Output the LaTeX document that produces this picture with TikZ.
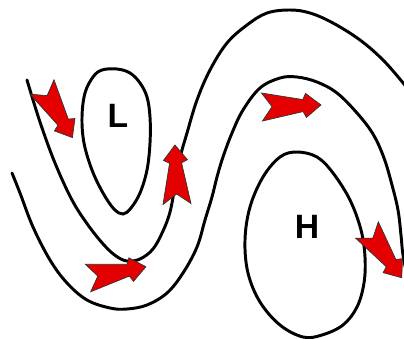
\documentclass[tikz,border=0pt]{standalone}
\usepackage{fontspec}
\setmainfont{Liberation Sans}
\usepackage{tikz}
\definecolor{WindRed}{RGB}{228,0,0}
\definecolor{Ink}{RGB}{0,0,0}
\tikzset{
  wind/.pic={
    \filldraw[windarrow] (0,14) -- (41,6) -- (44,12) -- (59,0) -- (44,-12) -- (41,-6) -- (0,-14) -- (10,0) -- cycle;
  }
}
\begin{document}
\begin{tikzpicture}[
  x=0.025cm,y=-0.025cm,
  isobar/.style={draw=Ink,line width=2.1pt,line cap=round},
  windarrow/.style={fill=WindRed,draw=Ink!80,line width=0.5pt,line join=miter},
  pressure/.style={font=\fontsize{24}{24}\selectfont\bfseries,text=Ink,inner sep=0pt}
]
\useasboundingbox (0,0) rectangle (404,338);
\clip (0,0) rectangle (404,338);

% isobars
\draw[isobar] plot[smooth,tension=0.6] coordinates {(27,80) (40,122) (55,163) (72,200) (88,225) (104,245) (116,256) (127,261) (140,259) (153,249) (163,231) (170,212) (175,186) (180,158) (187,133) (197,100) (210,70) (227,43) (247,25) (267,13) (290,10) (310,13) (333,23) (360,40) (383,60) (404,84) (412,95)};
\draw[isobar] plot[smooth,tension=0.6] coordinates {(12,173) (20,193) (33,227) (50,260) (67,283) (87,300) (110,308) (127,309) (147,305) (167,293) (183,273) (197,247) (205,220) (212,197) (217,177) (223,157) (232,133) (243,110) (260,88) (280,78) (297,77) (317,82) (337,93) (357,113) (373,134) (384,158) (392,185) (398,210) (401,235) (403,255) (408,280)};
\draw[isobar] plot[smooth cycle,tension=0.6] coordinates {(102,70) (117,69) (130,73) (140,83) (147,97) (150,117) (150,143) (147,170) (140,193) (131,208) (123,214) (114,209) (103,193) (92,170) (84,143) (82,117) (85,93) (93,77)};
\draw[isobar] plot[smooth cycle,tension=0.6] coordinates {(297,152) (317,157) (333,173) (350,200) (361,230) (365,257) (364,283) (357,307) (343,325) (322,335) (303,337) (280,325) (260,302) (248,273) (245,240) (250,207) (263,177) (280,157)};

% centres
\node[pressure] (low) at (118,116) {L};
\node[pressure] (high) at (307,227) {H};

% winds
\pic[rotate=-59] at (42,87) {wind};
\pic[rotate=92] at (177,204) {wind};
\pic[rotate=11] at (88,278) {wind};
\pic[rotate=2] at (262,107) {wind};
\pic[rotate=-54] at (367,230) {wind};
\end{tikzpicture}
\end{document}
